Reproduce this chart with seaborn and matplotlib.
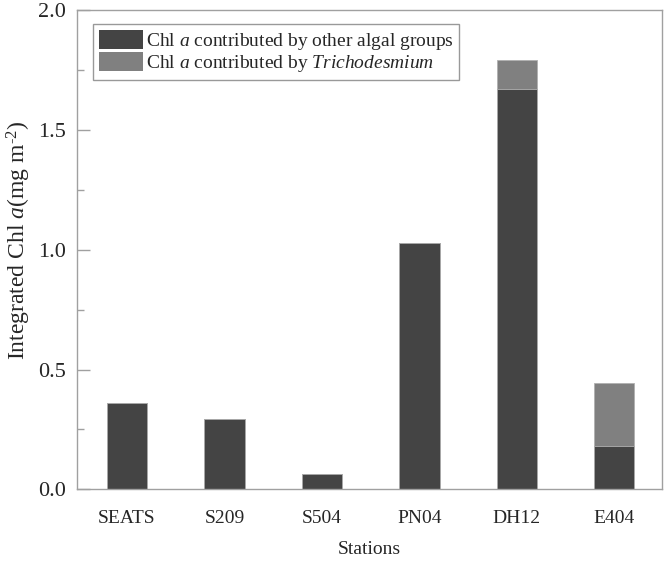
import matplotlib
matplotlib.use('Agg')
import matplotlib.pyplot as plt
import matplotlib.patches as mpatches
from matplotlib.ticker import MultipleLocator
import pandas as pd
import seaborn as sns

# Integrated Chl a per station (mg m-2)
stations = ['SEATS', 'S209', 'S504', 'PN04', 'DH12', 'E404']
other_algae = [0.36, 0.295, 0.065, 1.03, 1.67, 0.18]
trichodesmium = [0.0, 0.0, 0.0, 0.0, 0.12, 0.265]

df = pd.DataFrame({'station': stations, 'other': other_algae, 'tricho': trichodesmium})
df['total'] = df['other'] + df['tricho']

sns.set_style('white')
plt.rcParams['font.family'] = ['Liberation Serif', 'DejaVu Serif']
plt.rcParams['mathtext.fontset'] = 'custom'
plt.rcParams['mathtext.rm'] = 'Liberation Serif'
plt.rcParams['mathtext.it'] = 'Liberation Serif:italic'

dark = '#444444'
light = '#808080'
axis_grey = '#a0a0a0'
fs = 14

fig = plt.figure(figsize=(6.66, 5.65), dpi=100)
ax = fig.add_axes([0.116, 0.134, 0.878, 0.848])

# totals in light grey first, then the other-algae part in dark grey over it
sns.barplot(data=df, x='station', y='total', color=light, width=0.415, saturation=1,
            edgecolor='#b0b0b0', linewidth=0.6, ax=ax)
sns.barplot(data=df, x='station', y='other', color=dark, width=0.415, saturation=1,
            edgecolor='#b0b0b0', linewidth=0.6, ax=ax)

ax.set_xlim(-0.51, 5.49)
ax.set_ylim(0, 2.0)
ax.yaxis.set_major_locator(MultipleLocator(0.5))
ax.yaxis.set_minor_locator(MultipleLocator(0.25))
ax.yaxis.set_major_formatter(plt.FormatStrFormatter('%.1f'))

for s in ax.spines.values():
    s.set_visible(True)
    s.set_color(axis_grey)
    s.set_linewidth(1.0)

ax.tick_params(axis='y', which='major', direction='in', length=9.5, width=1,
               color=axis_grey, labelsize=16, pad=8, left=True)
ax.tick_params(axis='y', which='minor', direction='in', length=4.8, width=1,
               color=axis_grey, left=True)
ax.tick_params(axis='x', which='both', length=0, labelsize=fs, pad=15)

ax.set_xlabel('Stations', fontsize=fs, labelpad=10)
ax.set_ylabel(r'Integrated Chl $a$(mg m$^{\text{-2}}$)', fontsize=17)
ax.yaxis.set_label_coords(-0.075, 0.52)

handles = [
    mpatches.Patch(facecolor=dark, edgecolor='none', label='Chl $a$ contributed by other algal groups'),
    mpatches.Patch(facecolor=light, edgecolor='none', label='Chl $a$ contributed by $Trichodesmium$'),
]
leg = ax.legend(handles=handles, loc='upper left', bbox_to_anchor=(0.0274, 0.971),
                borderaxespad=0, fontsize=fs, frameon=True, fancybox=False,
                framealpha=1, edgecolor='#999999', borderpad=0.3,
                handlelength=2.27, handleheight=1.13, handletextpad=0.12,
                labelspacing=0.0)
leg.get_frame().set_linewidth(1.0)

fig.savefig('out.png', dpi=100)
